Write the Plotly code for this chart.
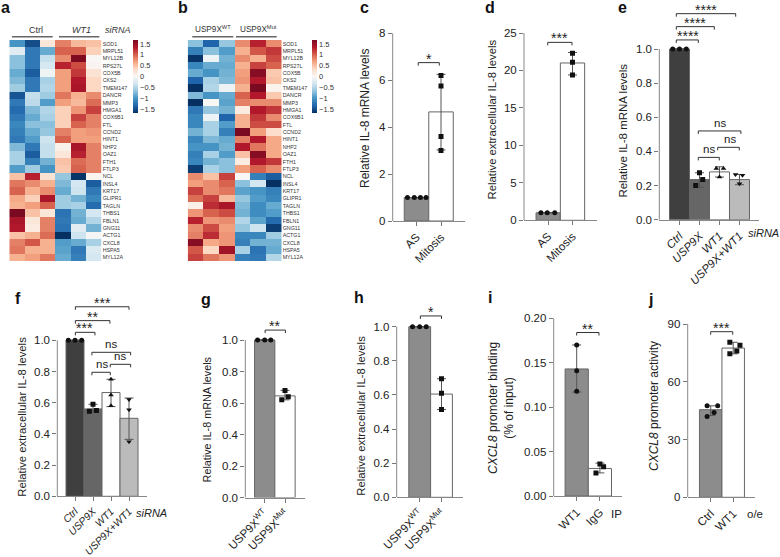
import plotly.graph_objects as go

W = 780
H = 557
FONT = "Liberation Sans"

genes = ["SOD1", "MRPL51", "MYL12B", "RPS27L", "COX5B", "CKS2", "TMEM147", "DANCR", "MMP3", "HMGA1",
         "COX6B1", "FTL", "CCND2", "HINT1", "NHP2", "OAZ1", "FTH1", "FTLP3", "NCL", "INSL4",
         "KRT17", "GLIPR1", "TAGLN", "THBS1", "FBLN1", "GNG11", "ACTG1", "CXCL8", "HSPA5", "MYL12A"]

heat_a = [
    [-1.0, -1.5, 0.2, 0.85, 0.55, 0.5],
    [-0.2, -1.2, -0.85, 1.0, 1.0, 0.4],
    [-0.7, -1.2, -0.4, 0.8, 1.65, 0.0],
    [-0.7, -1.2, -0.3, 1.3, 1.1, 0.03],
    [-0.85, -1.4, -0.08, 0.7, 1.2, 0.25],
    [-0.75, -1.2, -0.55, 0.7, 1.35, 0.35],
    [-0.6, -1.2, -0.5, 0.7, 1.4, 0.35],
    [-1.45, -0.4, -0.6, 0.9, 0.6, 0.8],
    [-1.2, -0.45, -0.95, 0.7, 0.55, 0.95],
    [-1.3, -0.75, -0.5, 0.4, 0.75, 1.15],
    [-1.2, -0.85, -0.55, 0.4, 1.15, 0.85],
    [-1.1, -0.7, -0.7, 0.4, 1.0, 0.85],
    [-1.15, -0.85, -0.65, 0.85, 0.7, 0.75],
    [-1.2, -0.95, -0.35, 1.0, 0.7, 0.7],
    [-0.75, -1.2, -0.4, 0.08, 1.4, 0.85],
    [-0.55, -1.4, -0.4, 0.2, 1.3, 0.85],
    [-0.55, -1.15, -0.8, 0.5, 0.95, 0.85],
    [-0.95, -0.6, -1.0, 0.45, 1.0, 0.85],
    [0.5, 1.3, 0.25, -0.65, -1.65, 0.05],
    [0.9, 0.8, 0.6, -0.75, -0.3, -1.4],
    [1.0, 0.6, 0.8, -0.85, -0.35, -1.2],
    [0.65, 0.4, 1.4, -0.6, -0.8, -1.1],
    [0.6, 0.7, 1.0, -0.6, -0.55, -1.3],
    [1.7, 0.5, 0.2, -1.25, -0.8, -0.3],
    [1.4, 0.2, 0.85, -1.2, -0.85, -0.5],
    [1.35, 0.15, 0.85, -1.25, -0.2, -0.8],
    [0.5, 0.6, 0.95, -1.75, -0.35, -0.03],
    [0.85, 1.05, 0.6, -0.95, -0.85, -0.55],
    [0.9, 0.6, 0.6, -0.9, -1.2, -0.25],
    [0.6, 0.7, 0.9, -0.85, -1.15, -0.3],
]

heat_b = [
    [-0.7, -1.35, -0.65, 0.8, 1.3, 0.8],
    [-1.15, -0.7, -0.95, 0.6, 1.05, 1.2],
    [-1.65, -0.1, -0.8, 0.8, 0.6, 1.1],
    [-1.1, -0.85, -0.85, 0.6, 1.15, 1.0],
    [-0.85, -1.0, -0.8, 0.7, 1.6, 0.45],
    [-1.35, -0.55, -0.75, 0.75, 1.35, 0.5],
    [-1.7, -0.5, -0.1, 0.6, 1.7, 0.05],
    [-0.75, -1.0, -0.85, 1.0, 1.35, 0.45],
    [-1.7, 0.0, -0.9, 0.85, 0.8, 0.8],
    [-1.2, -0.65, -0.8, 0.15, 1.35, 1.2],
    [-1.1, -0.1, -1.35, 0.6, 1.2, 0.8],
    [-1.1, -0.55, -0.95, 0.6, 1.1, 1.1],
    [-0.8, -0.55, -1.15, 1.7, 0.7, 0.3],
    [-1.1, -0.75, -0.85, 0.85, 1.35, 0.65],
    [-1.0, -1.0, -0.8, 1.35, 0.9, 0.65],
    [-1.15, -0.55, -0.95, 0.5, 1.6, 0.65],
    [-1.1, -0.8, -0.7, 0.15, 1.35, 1.2],
    [-1.6, -0.55, -0.7, 0.7, 1.0, 0.8],
    [0.8, 0.5, 1.15, 0.0, -1.15, -1.4],
    [0.7, 0.8, 1.0, -0.7, -0.3, -1.75],
    [1.15, 0.8, 0.9, -0.9, -1.0, -1.15],
    [0.95, 1.15, 0.55, -0.65, -0.95, -1.1],
    [0.1, 1.25, 1.4, -0.75, -1.05, -0.85],
    [0.75, 1.0, 1.1, -0.8, -1.05, -0.95],
    [1.3, 0.75, 0.8, -0.5, -0.9, -1.3],
    [0.8, 1.1, 0.7, -0.65, -0.35, -1.6],
    [0.85, 1.25, 0.75, -1.1, -1.1, -0.6],
    [1.6, 0.65, 0.75, -1.15, -0.8, -0.8],
    [1.05, 0.35, 1.45, -0.55, -1.25, -0.85],
    [1.15, 0.9, 0.75, -1.15, -1.2, -0.5],
]

# bar values
c_labels = ["AS", "Mitosis"]
c_means = [1, 4.65]
c_low = [1, 3.03]
c_high = [1, 6.25]
c_points = [[1, 1, 1, 1], [6.2, 5.75, 3.6, 3.0]]

d_labels = ["AS", "Mitosis"]
d_means = [1, 21]
d_low = [1, 19.4]
d_high = [1, 22.4]
d_points = [[1, 1, 1], [22.3, 21.1, 19.4]]

e_labels = ["<i>Ctrl</i>", "<i>USP9X</i>", "<i>WT1</i>", "<i>USP9X+WT1</i>"]
e_means = [1, 0.235, 0.28, 0.235]
e_low = [1, 0.19, 0.25, 0.205]
e_high = [1, 0.275, 0.31, 0.265]
e_points = [[1, 1, 1], [0.2, 0.235, 0.275], [0.30, 0.30, 0.25], [0.265, 0.26, 0.21]]

f_labels = e_labels
f_means = [1, 0.56, 0.665, 0.5]
f_low = [1, 0.54, 0.575, 0.365]
f_high = [1, 0.59, 0.75, 0.63]
f_points = [[1, 1, 1], [0.59, 0.545, 0.55], [0.75, 0.65, 0.58], [0.62, 0.555, 0.35]]

g_labels = ["USP9X<sup>WT</sup>", "USP9X<sup>Mut</sup>"]
g_means = [1, 0.645]
g_low = [1, 0.62]
g_high = [1, 0.68]
g_points = [[1, 1, 1], [0.68, 0.64, 0.62]]

h_labels = g_labels
h_means = [1, 0.605]
h_low = [1, 0.515]
h_high = [1, 0.695]
h_points = [[1, 1, 1], [0.695, 0.61, 0.515]]

i_labels = ["WT1", "IgG"]
i_means = [0.143, 0.031]
i_low = [0.117, 0.026]
i_high = [0.17, 0.037]
i_points = [[0.17, 0.141, 0.118], [0.036, 0.033, 0.026]]

j_labels = ["Ctrl", "WT1"]
j_means = [45.5, 77.5]
j_low = [42.5, 74.5]
j_high = [47.5, 80.5]
j_points = [[47.5, 47.5, 44, 42], [80.5, 79, 76, 74.5]]

RDBU = ["#053061", "#2166ac", "#4393c3", "#92c5de", "#d1e5f0", "#f9f7f5",
        "#fddbc7", "#f4a582", "#d6604d", "#b2182b", "#7a0a22"]

fig = go.Figure()
layout_axes = {}
annots = []
shapes = []
n_axes = 0


def px_x(x):
    return x / W


def px_y(y):
    return 1 - y / H


def text(x, y, s, size=11, angle=0, color="#222222", anchor="center"):
    annots.append(dict(x=px_x(x), y=px_y(y), xref="paper", yref="paper", text=s, showarrow=False,
                       font=dict(size=size, color=color, family=FONT), textangle=angle,
                       xanchor=anchor, yanchor="middle", align="center"))


def new_axes():
    global n_axes
    n_axes += 1
    s = "" if n_axes == 1 else str(n_axes)
    return "x" + s, "y" + s, "xaxis" + s, "yaxis" + s


def heatmap(z, left, right, top, bottom, cb_left):
    xr, yr, xk, yk = new_axes()
    colorscale = [[i / 10, c] for i, c in enumerate(RDBU)]
    fig.add_trace(go.Heatmap(z=z, x=[0, 1, 2, 3, 4, 5], y=genes, xaxis=xr, yaxis=yr, zmin=-1.68, zmax=1.68,
                             colorscale=colorscale, hoverinfo="skip",
                             colorbar=dict(x=px_x(cb_left), xanchor="left", xpad=0, ypad=0, y=px_y(40), yanchor="top",
                                           len=73 / H, lenmode="fraction", thickness=5, thicknessmode="pixels",
                                           tickvals=[-1.5, -1, -0.5, 0, 0.5, 1, 1.5],
                                           ticktext=["\u22121.5", "\u22121", "\u22120.5", "0", "0.5", "1", "1.5"],
                                           ticklen=0, outlinewidth=0, tickfont=dict(size=7.5, family=FONT, color="#333333"))))
    layout_axes[xk] = dict(domain=[px_x(left), px_x(right)], anchor=yr, visible=False, range=[-0.5, 5.5],
                           automargin=False)
    layout_axes[yk] = dict(domain=[px_y(bottom), px_y(top)], anchor=xr, side="right", autorange="reversed",
                           tickmode="array", tickvals=genes, ticktext=genes, showline=False, showgrid=False,
                           ticks="", tickfont=dict(size=5.3, family=FONT, color="#333333"), automargin=False)


def bars(labels, means, low, high, points, offsets, colors, symbols,
         axis_x, axis_end, first, width, top, bottom, ymax, dtick, fmt, brackets, drop_px=3, label_size=11.5):
    xr, yr, xk, yk = new_axes()
    xs = list(range(len(labels)))
    fig.add_trace(go.Bar(x=xs, y=means, width=1, xaxis=xr, yaxis=yr,
                         marker=dict(color=colors, line=dict(color="#666666", width=1)),
                         error_y=dict(type="data", symmetric=False,
                                      array=[h - m for h, m in zip(high, means)],
                                      arrayminus=[m - l for m, l in zip(means, low)],
                                      color="#555555", thickness=1, width=4.5)))
    for i in xs:
        fig.add_trace(go.Scatter(x=[i + o for o in offsets[i]], y=points[i], mode="markers", xaxis=xr, yaxis=yr,
                                 marker=dict(color="#111111", size=5, symbol=symbols[i])))
    unit = (bottom - top) / ymax
    for x0, x1, y, label, tx, raise_px in brackets:
        drop = drop_px / unit
        size = 14 if "*" in label else 11.5
        fig.add_trace(go.Scatter(x=[x0, x0, x1, x1], y=[y - drop, y, y, y - drop], mode="lines", xaxis=xr, yaxis=yr,
                                 line=dict(color="#333333", width=1)))
        annots.append(dict(x=tx, y=y, xref=xr, yref=yr, text=label, showarrow=False, yanchor="bottom",
                           yshift=raise_px, font=dict(size=size, color="#222222", family=FONT)))
    # y axis keeps headroom for the brackets; the visible line stops at the top tick
    ext_top = 2
    ticks = []
    n = int(round(ymax / dtick))
    for k in range(n + 1):
        ticks.append(k * dtick)
    layout_axes[xk] = dict(domain=[px_x(axis_x), px_x(axis_end)], anchor=yr,
                           range=[(axis_x - first) / width, (axis_end - first) / width],
                           tickmode="array", tickvals=xs, ticktext=labels, tickangle=-45,
                           ticks="outside", ticklen=4, tickcolor="#777777", showline=True, linecolor="#888888",
                           linewidth=1, showgrid=False, zeroline=False, automargin=False,
                           tickfont=dict(size=label_size, family=FONT, color="#222222"))
    layout_axes[yk] = dict(domain=[px_y(bottom), px_y(ext_top)], anchor=xr,
                           range=[0, (bottom - ext_top) / unit], tickmode="array", tickvals=ticks,
                           tickformat=fmt, ticks="outside", ticklen=4, tickcolor="#777777", showline=False,
                           showgrid=False, zeroline=False, automargin=False,
                           tickfont=dict(size=11.5, family=FONT, color="#222222"))
    shapes.append(dict(type="line", xref=xr + " domain", yref=yr, x0=0, x1=0, y0=0, y1=ymax,
                       line=dict(color="#888888", width=1)))


GR = "#8c8c8c"
circle_sq = ["circle", "square"]
sets4 = ["#3f3f3f", "#666666", "#ffffff", "#bbbbbb"]
sym4 = ["circle", "square", "triangle-up", "triangle-down"]
RS = -6

heatmap(heat_a, 9.3, 101.7, 40, 261.3, 133)
heatmap(heat_b, 187.7, 281.7, 40, 261.3, 311.7)

bars(c_labels, c_means, c_low, c_high, c_points,
     [[-0.37, -0.09, 0.16, 0.39], [0, 0, 0, 0]], [GR, "#ffffff"], circle_sq,
     392.7, 465, 416.5, 24.5, 33.3, 221, 8, 2, "d",
     [(0.07, 0.93, 6.75, "*", 0.5, RS)])
bars(d_labels, d_means, d_low, d_high, d_points,
     [[-0.3, -0.04, 0.27], [0, 0, 0]], [GR, "#ffffff"], circle_sq,
     524, 596.7, 548.2, 24.3, 33, 220.3, 25, 5, "d",
     [(-0.02, 0.98, 23.75, "***", 0.48, RS)])
bars(e_labels, e_means, e_low, e_high, e_points,
     [[-0.34, 0, 0.34], [-0.19, 0.16, 0], [-0.16, 0.2, 0], [-0.2, 0.15, 0]], sets4, sym4,
     659.3, 759.3, 679.5, 20, 49, 219.7, 1, 0.2, ".1f",
     [(-0.16, 0.94, 1.053, "****", 0.4, RS), (-0.16, 1.74, 1.131, "****", 0.75, RS),
      (-0.16, 2.81, 1.207, "****", 1.3, RS),
      (0.94, 3.07, 0.52, "ns", 2.0, 0), (0.94, 1.99, 0.365, "ns", 1.45, 0), (1.91, 2.99, 0.424, "ns", 2.5, 0)])
bars(f_labels, f_means, f_low, f_high, f_points,
     [[-0.37, 0, 0.37], [0, -0.2, 0.19], [0, 0, 0], [0, 0, 0]], sets4, sym4,
     57.3, 146.7, 75, 18, 340.3, 496.3, 1, 0.2, ".1f",
     [(0.02, 1.11, 1.051, "***", 0.55, RS), (0.02, 1.94, 1.126, "**", 0.97, RS), (0.02, 3.0, 1.215, "***", 1.5, RS),
      (0.94, 1.96, 0.795, "ns", 1.5, 0), (1.96, 3.09, 0.846, "ns", 2.5, 0), (0.94, 3.09, 0.923, "ns", 2.0, 0)],
     label_size=10.3)
bars(g_labels, g_means, g_low, g_high, g_points,
     [[-0.35, 0, 0.3], [0, 0.16, -0.16]], [GR, "#ffffff"], circle_sq,
     245.3, 305.3, 264.7, 20.3, 340, 497.5, 1, 0.2, ".1f",
     [(0.02, 1.02, 1.063, "**", 0.5, RS)])
bars(h_labels, h_means, h_low, h_high, h_points,
     [[-0.33, 0, 0.3], [0, 0, 0]], [GR, "#ffffff"], circle_sq,
     396.7, 463.3, 419.7, 21.8, 326.7, 497.3, 1, 0.2, ".1f",
     [(0.03, 1.0, 1.063, "*", 0.5, RS)])
bars(i_labels, i_means, i_low, i_high, i_points,
     [[0, 0, 0], [0, 0.16, -0.17]], [GR, "#ffffff"], ["circle", "square"],
     553.7, 622.3, 576.7, 23.2, 318.3, 496, 0.2, 0.05, ".2f",
     [(0, 0.96, 0.184, "**", 0.48, RS)])
bars(j_labels, j_means, j_low, j_high, j_points,
     [[-0.16, 0.31, 0.15, -0.16], [-0.15, 0.3, 0.16, -0.15]], [GR, "#ffffff"], ["circle", "square"],
     687.7, 755.3, 710.7, 22.5, 324, 497.3, 90, 30, "d",
     [(0, 0.98, 86, "***", 0.48, RS)])

# panel letters
for s, x, y in [("a", 5, 8), ("b", 183, 8), ("c", 364, 8), ("d", 490, 8), ("e", 622, 8),
                ("f", 18, 298), ("g", 206, 299), ("h", 359, 297), ("i", 490, 297), ("j", 650, 299)]:
    text(x, y, "<b>" + s + "</b>", size=16, color="#111111")

# axis titles
text(365, 119, "Relative IL-8 mRNA levels", size=12, angle=-90)
text(491.7, 119.7, "Relative extracellular IL-8 levels", size=11.3, angle=-90)
text(623.3, 130.3, "Relative IL-8 mRNA levels", size=11.5, angle=-90)
text(21.7, 417, "Relative extracellular IL-8 levels", size=11.3, angle=-90)
text(206.7, 419.7, "Relative IL-8 mRNA levels", size=10.8, angle=-90)
text(360.7, 416, "Relative extracellular IL-8 levels", size=11.3, angle=-90)
text(501, 408, "<i>CXCL8</i> promoter binding<br>(% of input)", size=12, angle=-90)
text(654, 406, "<i>CXCL8</i> promoter activity", size=12, angle=-90)

# side labels
text(763, 232.7, "<i>siRNA</i>", size=11)
text(151.7, 512.7, "<i>siRNA</i>", size=11)
text(616, 514, "IP", size=11.5)
text(755, 514, "o/e", size=11.5)

# heatmap headers
text(35.7, 30, "Ctrl", size=9, color="#333333")
text(81.7, 30, "<i>WT1</i>", size=9, color="#333333")
text(118.3, 30, "<i>siRNA</i>", size=9, color="#333333")
text(213.3, 29, "USP9X<sup>WT</sup>", size=8.2, color="#333333")
text(258.3, 29, "USP9X<sup>Mut</sup>", size=8.2, color="#333333")
for x0, x1 in [(12, 52.7), (59, 99.3), (192.3, 233.3), (236, 276.7)]:
    shapes.append(dict(type="line", xref="paper", yref="paper", x0=px_x(x0), x1=px_x(x1),
                       y0=px_y(36.7), y1=px_y(36.7), line=dict(color="#666666", width=1.5)))

fig.update_layout(width=W, height=H, margin=dict(l=0, r=0, t=0, b=0), showlegend=False,
                  plot_bgcolor="rgba(0,0,0,0)", paper_bgcolor="white", annotations=annots, shapes=shapes,
                  font=dict(family=FONT), **layout_axes)

fig.write_html("out.html", config={"displayModeBar": False}, post_script="document.body.style.margin='0';")
